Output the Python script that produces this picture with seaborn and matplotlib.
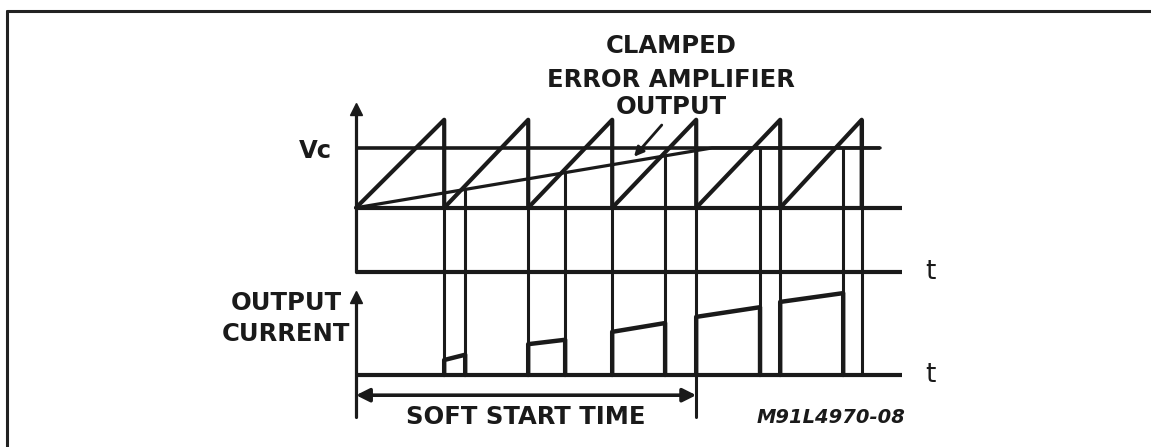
import numpy as np
import pandas as pd
import seaborn as sns
import matplotlib.pyplot as plt
from matplotlib.lines import Line2D

# time in switching periods, levels in diagram units (t-axis of top trace = 0)
ramp_start = [0.0, 1.05, 2.05, 3.05, 4.05, 5.05]
ramp_peak = [1.05, 2.05, 3.05, 4.05, 5.05, 6.02]
v_valley = 0.73
v_peak = 1.73
v_clamp = 1.41          # Vc
ea_time = [0.0, 4.24, 6.24]       # clamped error amplifier output
ea_level = [0.73, 1.41, 1.41]

pulse_on = [1.05, 2.05, 3.05, 4.05, 5.05]
pulse_off = [1.30, 2.49, 3.68, 4.81, 5.80]
i_left = [0.17, 0.35, 0.49, 0.66, 0.83]
i_right = [0.23, 0.40, 0.59, 0.77, 0.93]
i_base = -1.17          # baseline of the output current trace

soft_start_end = 4.05
t_end = 6.5

sns.set_theme(style="white")
plt.rcParams['font.family'] = ['DejaVu Sans']

INK = "#1a1a1a"
PX_X, PX_Y = 84.0, 88.0   # pixels per unit
X0, Y0 = 356.0, 272.0     # pixel position of origin

fig = plt.figure(figsize=(11.51, 4.47), dpi=100)
ax = fig.add_axes([0, 0, 1, 1])
ax.set_xlim(-X0 / PX_X, (1151 - X0) / PX_X)
ax.set_ylim((Y0 - 447) / PX_Y, Y0 / PX_Y)
ax.axis("off")

# sawtooth
saw = []
for i, (s, p) in enumerate(zip(ramp_start, ramp_peak)):
    saw += [(s, v_valley, i), (p, v_peak, i), (p, v_valley, i)]
saw = pd.DataFrame(saw, columns=["t", "v", "cycle"])
sns.lineplot(data=saw, x="t", y="v", units="cycle", estimator=None, sort=False,
             color=INK, lw=3.0, ax=ax)

# clamped error amplifier output
sns.lineplot(x=ea_time, y=ea_level, sort=False, estimator=None, color=INK, lw=2.3, ax=ax)

# reference lines of the top trace
ax.plot([0, t_end], [0, 0], color=INK, lw=3.0, solid_capstyle="butt")
ax.plot([0, t_end], [v_valley, v_valley], color=INK, lw=3.0, solid_capstyle="butt")
ax.plot([0, ea_time[-1]], [v_clamp, v_clamp], color=INK, lw=2.6, solid_capstyle="butt")
ax.plot([0, 0], [0, 1.85], color=INK, lw=2.3)
ax.plot([0], [1.85], marker="^", ms=9, color=INK)

# output current pulses
pulses = []
for k in range(len(pulse_on)):
    pulses += [(pulse_on[k], i_base, k), (pulse_on[k], i_base + i_left[k], k),
               (pulse_off[k], i_base + i_right[k], k), (pulse_off[k], i_base, k)]
pulses = pd.DataFrame(pulses, columns=["t", "i", "pulse"])
sns.lineplot(data=pulses, x="t", y="i", units="pulse", estimator=None, sort=False,
             color=INK, lw=3.2, ax=ax)
ax.plot([0, t_end], [i_base, i_base], color=INK, lw=3.0, solid_capstyle="butt")
ax.plot([0, 0], [-1.65, -0.30], color=INK, lw=2.3)
ax.plot([0], [-0.28], marker="^", ms=9, color=INK)

# drop lines linking both traces
ends = [i_base + h for h in i_left] + [i_base]
for t, y in zip(ramp_peak, ends):
    ax.plot([t, t], [v_peak, y], color=INK, lw=2.2)
ea_at_off = np.interp(pulse_off, ea_time, ea_level)
for t, y0, h in zip(pulse_off, ea_at_off, i_right):
    ax.plot([t, t], [y0, i_base + h], color=INK, lw=2.2)

# soft start
ax.plot([soft_start_end] * 2, [i_base, -1.65], color=INK, lw=2.2)
ax.annotate("", xy=(0, -1.40), xytext=(soft_start_end, -1.40),
            arrowprops=dict(arrowstyle="<|-|>", color=INK, lw=2.6,
                            mutation_scale=20, shrinkA=0, shrinkB=0))

# annotation arrow to clamped output
ax.annotate("", xy=(3.31, 1.31), xytext=(3.64, 1.67),
            arrowprops=dict(arrowstyle="-|>", color=INK, lw=2.0,
                            mutation_scale=14, shrinkA=0, shrinkB=0))

# labels
txt = dict(color=INK, fontsize=17.5, fontweight="bold", ha="center", va="center")
ax.text(3.75, 2.57, "CLAMPED", **txt)
ax.text(3.75, 2.18, "ERROR AMPLIFIER", **txt)
ax.text(3.75, 1.88, "OUTPUT", **txt)
ax.text(-0.48, 1.38, "Vc", **txt)
ax.text(-0.83, -0.35, "OUTPUT", **txt)
ax.text(-0.83, -0.70, "CURRENT", **txt)
ax.text(2.02, -1.65, "SOFT START TIME", **txt)
ax.text(5.66, -1.65, "M91L4970-08", color=INK, fontsize=14, fontweight="bold",
        fontstyle="italic", ha="center", va="center")
ax.text(6.84, 0.0, "t", color=INK, fontsize=19, ha="center", va="center")
ax.text(6.84, i_base, "t", color=INK, fontsize=19, ha="center", va="center")

# frame (top and left only)
fx, fy = 6.5 / 1151, 1 - 10.5 / 447
fig.add_artist(Line2D([fx, 1], [fy, fy], color="#222222", lw=2.2))
fig.add_artist(Line2D([fx, fx], [0, fy], color="#222222", lw=2.2))

fig.savefig("out.png", dpi=100, facecolor="white")
